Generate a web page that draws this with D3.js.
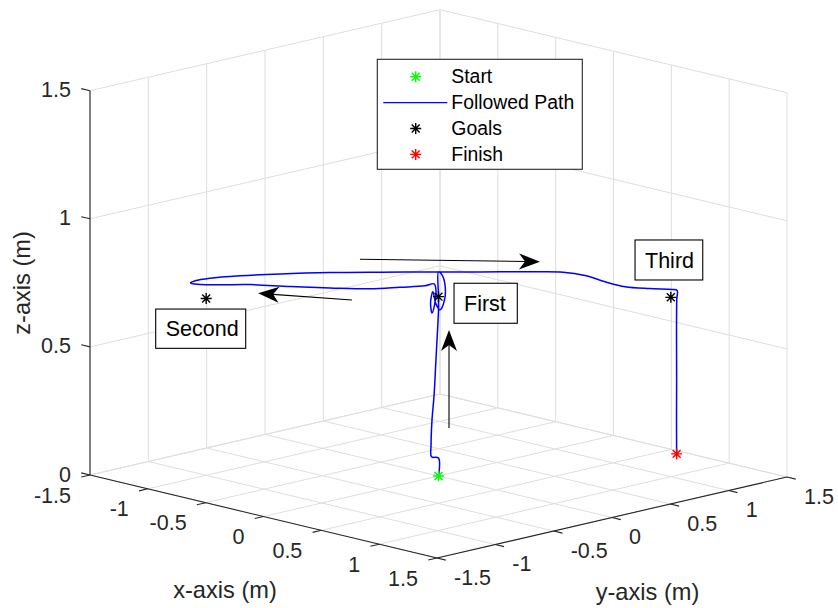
<!DOCTYPE html>
<html>
<head>
<meta charset="utf-8">
<script src="https://cdn.jsdelivr.net/npm/d3@7.9.0/dist/d3.min.js"></script>
<style>
  body { margin: 0; background: #fff; }
  svg { display: block; font-family: "Liberation Sans", Arial, Helvetica, sans-serif; }
</style>
</head>
<body>
<svg id="chart" width="838" height="608"></svg>
<script>
// ---------- data ----------
const xTicks = [-1.5, -1, -0.5, 0, 0.5, 1, 1.5];
const yTicks = [-1.5, -1, -0.5, 0, 0.5, 1, 1.5];
const zTicks = [0, 0.5, 1, 1.5];

const startX = [0], startY = [0], startZ = [0];
const goalsX = [0, -1, 1];
const goalsY = [0, -1, 1];
const goalsZ = [0.7, 0.69, 0.7];
const finishX = [1.03], finishY = [1.02], finishZ = [0.09];

// followed path
const pathX = [0, 0, -0.03, -0.032, -0.028, -0.019, -0.011, -0.004, 0, 0, 0,
  0.015, 0.028, 0.026, 0.0065, -0.011, -0.024, -0.034, -0.028, -0.017, -0.011, -0.019, -0.058,
  -0.166, -0.295, -0.467, -0.639, -0.811, -0.941, -1.027, -1.061, -1.067,
  -1.048, -0.984, -0.854, -0.682, -0.467, -0.252, -0.006, 0.179, 0.394, 0.536,
  0.631, 0.717, 0.803, 0.91, 1.005, 1.027, 1.027, 1.027, 1.028, 1.028, 1.03];
const pathY = [0, 0, -0.03, -0.032, -0.028, -0.019, -0.011, -0.004, 0, 0, 0,
  0.015, 0.028, 0.026, 0.0065, -0.011, -0.024, -0.034, -0.028, -0.017, -0.011, -0.019, -0.058,
  -0.166, -0.295, -0.467, -0.639, -0.811, -0.941, -1.027, -1.061, -1.067,
  -1.048, -0.984, -0.854, -0.682, -0.467, -0.252, -0.006, 0.179, 0.394, 0.536,
  0.631, 0.717, 0.803, 0.91, 1.005, 1.027, 1.024, 1.022, 1.022, 1.021, 1.02];
const pathZ = [0, 0.07, 0.075, 0.121, 0.218, 0.316, 0.453, 0.57, 0.648, 0.703, 0.797,
  0.785, 0.746, 0.688, 0.649, 0.672, 0.719, 0.679, 0.636, 0.668, 0.726, 0.75, 0.742,
  0.736, 0.73, 0.733, 0.738, 0.745, 0.744, 0.745, 0.748, 0.752,
  0.759, 0.769, 0.779, 0.787, 0.793, 0.795, 0.796, 0.797, 0.798, 0.797,
  0.784, 0.76, 0.741, 0.734, 0.731, 0.727, 0.692, 0.575, 0.38, 0.224, 0.09];

const legendItems = ["Start", "Followed Path", "Goals", "Finish"];
const legendColors = ["#00ff00", "#0000ff", "#000000", "#ff0000"];

// annotations in normalized figure units (like MATLAB annotation)
const arrows = [
  { x: [0.42, 0.308], y: [0.5066, 0.5176] },
  { x: [0.4296, 0.6444], y: [0.5735, 0.5696] },
  { x: [0.5358, 0.5358], y: [0.296, 0.4572] }
];
const textBoxes = [
  { text: "Second", pos: [0.1858, 0.4271, 0.1074, 0.0646] },
  { text: "First", pos: [0.5418, 0.4683, 0.0755, 0.0658] },
  { text: "Third", pos: [0.7578, 0.5395, 0.0808, 0.0658] }
];

// ---------- setup ----------
const W = 838, H = 608;
const svg = d3.select("#chart");
const textColor = "#262626";
const gridColor = "#dedede";

// figure normalized -> pixels
const figX = d3.scaleLinear().domain([0, 1]).range([0, W]);
const figY = d3.scaleLinear().domain([0, 1]).range([H, 0]);

// data -> unit cube
const xs = d3.scaleLinear().domain([-1.5, 1.5]).range([0, 1]);
const ys = d3.scaleLinear().domain([-1.5, 1.5]).range([0, 1]);
const zs = d3.scaleLinear().domain([0, 1.5]).range([0, 1]);

// projection of the box: corner (x=-1.5, y=-1.5, z=0) and the 3 edge vectors
const O = [90, 475];
const ex = [347, 83];
const ey = [350, -81];
const ez = [0, -384.3];

function proj(x, y, z) {
  const u = xs(x), v = ys(y), w = zs(z);
  return [O[0] + u * ex[0] + v * ey[0] + w * ez[0],
          O[1] + u * ex[1] + v * ey[1] + w * ez[1]];
}
const line3 = d3.line().x(d => d[0]).y(d => d[1]);
function seg(a, b) { return line3([proj(...a), proj(...b)]); }

const [xMin, xMax] = xs.domain();
const [yMin, yMax] = ys.domain();
const [zMin, zMax] = zs.domain();

// ---------- grid ----------
const grid = svg.append("g").attr("stroke", gridColor).attr("stroke-width", 1).attr("fill", "none");
// floor
xTicks.forEach(t => grid.append("path").attr("d", seg([t, yMin, 0], [t, yMax, 0])));
yTicks.forEach(t => grid.append("path").attr("d", seg([xMin, t, 0], [xMax, t, 0])));
// back wall x = xMin
yTicks.forEach(t => grid.append("path").attr("d", seg([xMin, t, zMin], [xMin, t, zMax])));
zTicks.forEach(t => grid.append("path").attr("d", seg([xMin, yMin, t], [xMin, yMax, t])));
// back wall y = yMax
xTicks.forEach(t => grid.append("path").attr("d", seg([t, yMax, zMin], [t, yMax, zMax])));
zTicks.forEach(t => grid.append("path").attr("d", seg([xMin, yMax, t], [xMax, yMax, t])));

// ---------- axes ----------
const axes = svg.append("g").attr("stroke", textColor).attr("stroke-width", 1.1).attr("fill", "none");
axes.append("path").attr("d", seg([xMin, yMin, 0], [xMax, yMin, 0]));
axes.append("path").attr("d", seg([xMax, yMin, 0], [xMax, yMax, 0]));
axes.append("path").attr("d", seg([xMin, yMin, zMin], [xMin, yMin, zMax]));

function unit(v) { const l = Math.hypot(v[0], v[1]); return [v[0] / l, v[1] / l]; }
const tickLen = 9;
const dEy = unit(ey), dEx = unit(ex);
const fmt = t => String(t);   // MATLAB style: plain hyphen minus

const tickFont = 21.5;
const labels = svg.append("g").attr("fill", textColor).style("font-size", tickFont + "px");

xTicks.forEach(t => {
  const p = proj(t, yMin, 0);
  axes.append("line").attr("x1", p[0]).attr("y1", p[1])
    .attr("x2", p[0] - dEy[0] * tickLen).attr("y2", p[1] - dEy[1] * tickLen);
  labels.append("text").attr("x", p[0] - 19).attr("y", p[1] + 20).attr("dy", "0.35em")
    .attr("text-anchor", "end").text(fmt(t));
});
yTicks.forEach(t => {
  const p = proj(xMax, t, 0);
  axes.append("line").attr("x1", p[0]).attr("y1", p[1])
    .attr("x2", p[0] + dEx[0] * tickLen).attr("y2", p[1] + dEx[1] * tickLen);
  labels.append("text").attr("x", p[0] + 17).attr("y", p[1] + 19).attr("dy", "0.35em")
    .attr("text-anchor", "start").text(fmt(t));
});
zTicks.forEach(t => {
  const p = proj(xMin, yMin, t);
  axes.append("line").attr("x1", p[0]).attr("y1", p[1])
    .attr("x2", p[0] - dEx[0] * tickLen).attr("y2", p[1] - dEx[1] * tickLen);
  labels.append("text").attr("x", p[0] - 19).attr("y", p[1] - 1).attr("dy", "0.35em")
    .attr("text-anchor", "end").text(fmt(t));
});

const labFont = 23.6;
svg.append("text").attr("x", 225).attr("y", 590).attr("dy", "0.35em")
  .attr("text-anchor", "middle").attr("fill", textColor).style("font-size", labFont + "px")
  .text("x-axis (m)");
svg.append("text").attr("x", 647.5).attr("y", 591.5).attr("dy", "0.35em")
  .attr("text-anchor", "middle").attr("fill", textColor).style("font-size", labFont + "px")
  .text("y-axis (m)");
svg.append("text").attr("transform", "translate(22,283) rotate(-90)").attr("dy", "0.35em")
  .attr("text-anchor", "middle").attr("fill", textColor).style("font-size", labFont + "px")
  .text("z-axis (m)");

// ---------- data marks ----------
function starPath(r) {
  const a = r * 0.72;
  return `M${-r},0L${r},0M0,${-r}L0,${r}M${-a},${-a}L${a},${a}M${-a},${a}L${a},${-a}`;
}
const pathPts = pathX.map((x, i) => proj(x, pathY[i], pathZ[i]));
svg.append("path").attr("d", line3.curve(d3.curveCatmullRom)(pathPts))
  .attr("fill", "none").attr("stroke", "#0000ff").attr("stroke-width", 1.5)
  .attr("stroke-linejoin", "round");
line3.curve(d3.curveLinear);

function drawStars(X, Y, Z, color) {
  X.forEach((x, i) => {
    const p = proj(x, Y[i], Z[i]);
    svg.append("path").attr("d", starPath(5.5))
      .attr("transform", `translate(${p[0]},${p[1]})`)
      .attr("stroke", color).attr("stroke-width", 1.4).attr("fill", "none");
  });
}
drawStars(startX, startY, startZ, "#00ff00");
drawStars(goalsX, goalsY, goalsZ, "#000000");
drawStars(finishX, finishY, finishZ, "#ff0000");

// ---------- legend ----------
const legFont = 19.4;
const leg = svg.append("g").attr("transform", "translate(377.3,59.3)");
leg.append("rect").attr("width", 205).attr("height", 110)
  .attr("fill", "#fff").attr("stroke", textColor).attr("stroke-width", 1.1);
legendItems.forEach((name, i) => {
  const cy = 17.4 + i * 25.9;
  if (name === "Followed Path") {
    leg.append("line").attr("x1", 6).attr("x2", 70).attr("y1", cy).attr("y2", cy)
      .attr("stroke", legendColors[i]).attr("stroke-width", 1.3);
  } else {
    leg.append("path").attr("d", starPath(5.5)).attr("transform", `translate(38.4,${cy})`)
      .attr("stroke", legendColors[i]).attr("stroke-width", 1.4).attr("fill", "none");
  }
  leg.append("text").attr("x", 74).attr("y", cy).attr("dy", "0.35em")
    .attr("fill", "#000").style("font-size", legFont + "px").text(name);
});

// ---------- annotations ----------
const ann = svg.append("g");
arrows.forEach(a => {
  const x1 = figX(a.x[0]), y1 = figY(a.y[0]), x2 = figX(a.x[1]), y2 = figY(a.y[1]);
  const d = unit([x2 - x1, y2 - y1]), n = [-d[1], d[0]];
  const L = 21, hw = 8, notch = 15;
  ann.append("line").attr("x1", x1).attr("y1", y1)
    .attr("x2", x2 - d[0] * notch).attr("y2", y2 - d[1] * notch)
    .attr("stroke", "#000").attr("stroke-width", 1.1);
  const pts = [
    [x2, y2],
    [x2 - d[0] * L + n[0] * hw, y2 - d[1] * L + n[1] * hw],
    [x2 - d[0] * notch, y2 - d[1] * notch],
    [x2 - d[0] * L - n[0] * hw, y2 - d[1] * L - n[1] * hw]
  ];
  ann.append("path").attr("d", d3.line()(pts) + "Z").attr("fill", "#000");
});
textBoxes.forEach(tb => {
  const [nx, ny, nw, nh] = tb.pos;
  const x = figX(nx), y = figY(ny + nh), w = figX(nw), h = figY(0) - figY(nh);
  ann.append("rect").attr("x", x).attr("y", y).attr("width", w).attr("height", h)
    .attr("fill", "#fff").attr("stroke", "#000").attr("stroke-width", 1.1);
  ann.append("text").attr("x", x + 10).attr("y", y + h / 2).attr("dy", "0.35em")
    .attr("fill", "#000").style("font-size", tickFont + "px").text(tb.text);
});
</script>
</body>
</html>
